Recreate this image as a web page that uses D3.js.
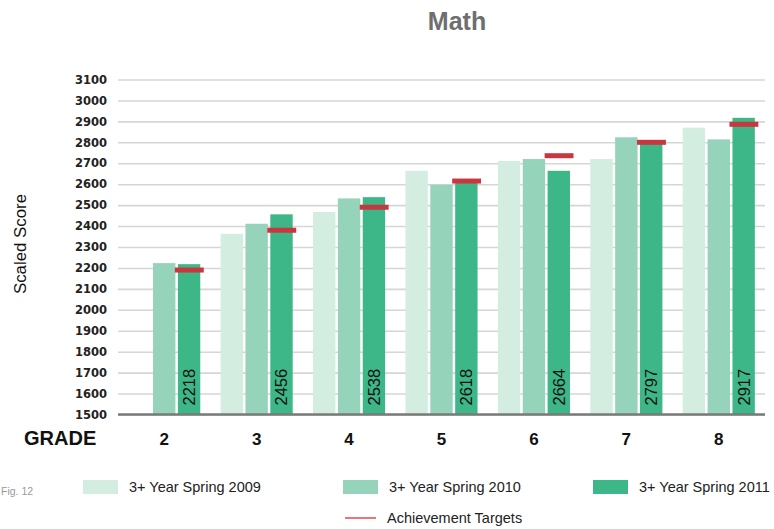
<!DOCTYPE html>
<html>
<head>
<meta charset="utf-8">
<script src="https://cdn.jsdelivr.net/npm/d3@7"></script>
<style>
  body { margin: 0; background: #fff; }
  svg { display: block; font-family: "Liberation Sans", Arial, sans-serif; }
</style>
</head>
<body>
<div id="chart"></div>
<script>
// data
const grades = ['2', '3', '4', '5', '6', '7', '8'];
const seriesNames = ['3+ Year Spring 2009', '3+ Year Spring 2010', '3+ Year Spring 2011'];
const spring2009 = [null, 2363, 2467, 2664, 2711, 2720, 2870];
const spring2010 = [2223, 2411, 2532, 2597, 2720, 2824, 2814];
const spring2011 = [2218, 2456, 2538, 2618, 2664, 2797, 2917];
const targets = [2190, 2380, 2490, 2615, 2736, 2800, 2886];
const yTicks = d3.range(1500, 3101, 100);

const colors = ['#d4ede1', '#95d3ba', '#3db787'];
const targetColor = '#c8373f';

const width = 774, height = 529;
const margin = { top: 79.5, right: 9, bottom: 114.5, left: 118 };

const svg = d3.select('#chart').append('svg')
  .attr('width', width)
  .attr('height', height);

const x0 = d3.scaleBand()
  .domain(grades)
  .range([margin.left, width - margin.right])
  .paddingInner(0.22)
  .paddingOuter(0.11);

const x1 = d3.scaleBand()
  .domain(seriesNames)
  .range([0, x0.bandwidth()])
  .paddingInner(0.1);

const y = d3.scaleLinear()
  .domain([1500, 3100])
  .range([height - margin.bottom, margin.top]);

// title
svg.append('text')
  .attr('x', 457)
  .attr('y', 30)
  .attr('text-anchor', 'middle')
  .style('font-size', '25px')
  .style('font-weight', 'bold')
  .style('fill', '#6e6e6e')
  .text('Math');

// grid + y labels
const yAxis = svg.append('g')
  .attr('transform', `translate(${margin.left},0)`)
  .call(d3.axisLeft(y)
    .tickValues(yTicks)
    .tickSize(-(width - margin.left - margin.right))
    .tickPadding(11)
    .tickFormat(d3.format('d')));
yAxis.select('.domain').remove();
yAxis.selectAll('.tick line')
  .attr('stroke', '#d6d6d6')
  .attr('stroke-width', 1.6);
yAxis.selectAll('.tick text')
  .style('font-family', '"DejaVu Sans", sans-serif')
  .style('font-weight', 'bold')
  .style('font-size', '11.5px')
  .style('fill', '#222');

svg.append('text')
  .attr('transform', 'translate(26,244) rotate(-90)')
  .attr('text-anchor', 'middle')
  .attr('textLength', 100)
  .attr('lengthAdjust', 'spacingAndGlyphs')
  .style('font-size', '16px')
  .style('fill', '#111')
  .text('Scaled Score');

// bars
const seriesData = [spring2009, spring2010, spring2011];
const groups = svg.append('g').attr('class', 'bars')
  .selectAll('g')
  .data(grades)
  .join('g')
  .attr('transform', d => `translate(${x0(d)},0)`);

groups.selectAll('rect')
  .data((g, gi) => seriesNames.map((s, si) => ({ s, si, v: seriesData[si][gi] }))
    .filter(d => d.v != null))
  .join('rect')
  .attr('x', d => x1(d.s))
  .attr('width', x1.bandwidth())
  .attr('y', d => y(d.v))
  .attr('height', d => y(1500) - y(d.v))
  .attr('fill', d => colors[d.si]);

// value labels on 2011 bars
groups.append('text')
  .attr('transform', () => {
    const cx = x1(seriesNames[2]) + x1.bandwidth() / 2;
    return `translate(${cx},${y(1500) - 9}) rotate(-90)`;
  })
  .attr('dy', '0.36em')
  .style('font-size', '16.5px')
  .style('fill', '#111')
  .text((g, gi) => spring2011[gi]);

// achievement targets
groups.append('rect')
  .attr('x', x1(seriesNames[2]) - 3)
  .attr('width', x1.bandwidth() + 6.5)
  .attr('y', (g, gi) => y(targets[gi]) - 2.5)
  .attr('height', 5)
  .attr('fill', targetColor);

// baseline
svg.append('line')
  .attr('x1', margin.left)
  .attr('x2', width - margin.right)
  .attr('y1', y(1500))
  .attr('y2', y(1500))
  .attr('stroke', '#7a7a7a')
  .attr('stroke-width', 2.5);

// grade labels
svg.append('text')
  .attr('x', 24)
  .attr('y', 444.5)
  .style('font-size', '20px')
  .style('font-weight', 'bold')
  .style('fill', '#111')
  .text('GRADE');

svg.append('g').selectAll('text')
  .data(grades)
  .join('text')
  .attr('x', d => x0(d) + x0.bandwidth() / 2)
  .attr('y', 444.5)
  .attr('text-anchor', 'middle')
  .style('font-size', '17px')
  .style('font-weight', 'bold')
  .style('fill', '#111')
  .text(d => d);

// fig note
svg.append('text')
  .attr('x', 1)
  .attr('y', 495)
  .style('font-size', '10.5px')
  .style('fill', '#9a9a9a')
  .text('Fig. 12');

// legend
const legendPos = [[83, 487], [343, 487], [593, 487]];
const legend = svg.append('g').selectAll('g')
  .data(seriesNames)
  .join('g')
  .attr('transform', (d, i) => `translate(${legendPos[i][0]},${legendPos[i][1]})`);
legend.append('rect')
  .attr('x', 0)
  .attr('y', -7)
  .attr('width', 35)
  .attr('height', 14)
  .attr('fill', (d, i) => colors[i]);
legend.append('text')
  .attr('x', 46)
  .attr('dy', '0.35em')
  .style('font-size', '14.5px')
  .style('fill', '#222')
  .text(d => d);

const tl = svg.append('g').attr('transform', 'translate(345,518)');
tl.append('line')
  .attr('x1', 0).attr('x2', 31)
  .attr('stroke', '#e0474f')
  .attr('stroke-width', 1.5);
tl.append('text')
  .attr('x', 42)
  .attr('dy', '0.35em')
  .style('font-size', '14.5px')
  .style('fill', '#222')
  .text('Achievement Targets');
</script>
</body>
</html>
